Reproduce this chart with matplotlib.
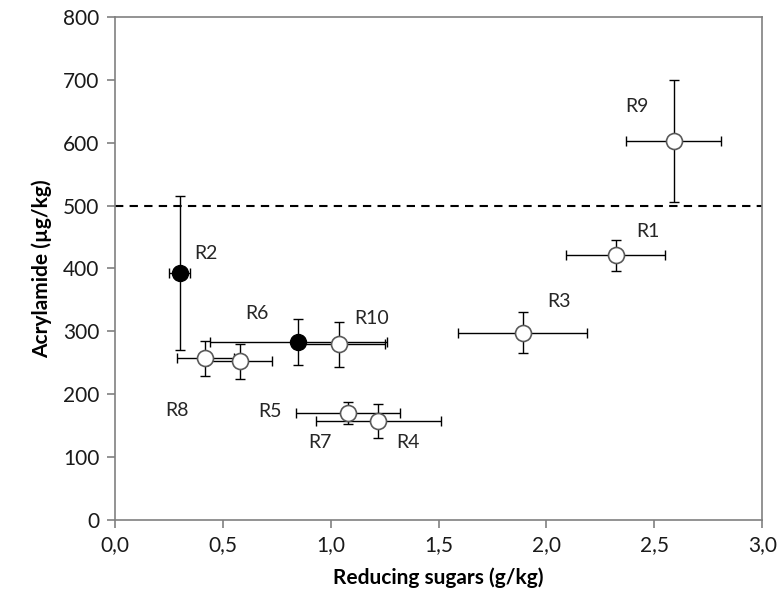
import matplotlib
matplotlib.use("Agg")
import matplotlib.pyplot as plt
from matplotlib.ticker import FuncFormatter

# samples
names = ["R1", "R2", "R3", "R4", "R5", "R6", "R7", "R8", "R9", "R10"]
sugars = [2.32, 0.30, 1.89, 1.22, 0.58, 0.85, 1.08, 0.42, 2.59, 1.04]
sugars_err = [0.23, 0.05, 0.30, 0.29, 0.15, 0.41, 0.24, 0.13, 0.22, 0.21]
acryl = [421, 393, 298, 158, 252, 283, 170, 257, 603, 279]
acryl_err = [25, 123, 33, 27, 28, 37, 18, 28, 97, 36]
filled = [False, True, False, False, False, True, False, False, False, False]
limit = 500

# label positions (data coords)
lab_x = [2.47, 0.42, 2.06, 1.36, 0.72, 0.66, 0.95, 0.29, 2.42, 1.19]
lab_y = [459, 424, 348, 123, 172, 328, 123, 174, 658, 320]

plt.rcParams["font.family"] = ["Lato", "DejaVu Sans"]

fig = plt.figure(figsize=(7.81, 6.08), dpi=100)
ax = fig.add_axes([0.147, 0.145, 0.829, 0.827])

grey = "#808080"
ax.axhline(limit, color="black", ls=(0, (4, 3)), lw=1.5, zorder=1, clip_on=False)

for i in range(len(names)):
    ax.errorbar(sugars[i], acryl[i], xerr=sugars_err[i], yerr=acryl_err[i],
                fmt="none", ecolor="black", elinewidth=1, capsize=3.5,
                capthick=1, zorder=2)
for i in range(len(names)):
    if filled[i]:
        ax.plot(sugars[i], acryl[i], "o", ms=11.5, mfc="black", mec="black",
                mew=1, zorder=3)
    else:
        ax.plot(sugars[i], acryl[i], "o", ms=11.5, mfc="white", mec="#5a5a5a",
                mew=1.2, zorder=3)
    ax.text(lab_x[i], lab_y[i], names[i], ha="center", va="center",
            fontsize=14, color="#262626")

ax.set_xlim(0, 3.0)
ax.set_ylim(0, 800)
ax.set_xticks([0, 0.5, 1.0, 1.5, 2.0, 2.5, 3.0])
ax.set_yticks(range(0, 801, 100))
ax.xaxis.set_major_formatter(FuncFormatter(lambda v, p: f"{v:.1f}".replace(".", ",")))

for s in ax.spines.values():
    s.set_color(grey)
    s.set_linewidth(1.2)
ax.tick_params(direction="out", length=6, width=1.2, color=grey,
               labelsize=15, labelcolor="#1a1a1a", pad=5)

ax.set_xlabel("Reducing sugars (g/kg)", fontsize=15, fontweight="bold", labelpad=9)
ax.set_ylabel("Acrylamide (µg/kg)", fontsize=15, fontweight="bold", labelpad=8)

fig.savefig("out.png", dpi=100)
